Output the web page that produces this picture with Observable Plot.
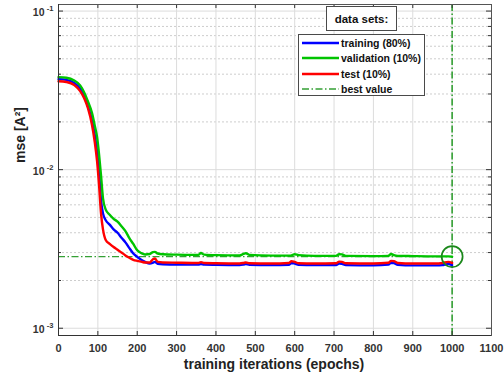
<!DOCTYPE html>
<html>
<head>
<meta charset="utf-8">
<script src="https://cdn.jsdelivr.net/npm/d3@7"></script>
<script src="https://cdn.jsdelivr.net/npm/@observablehq/plot@0.6"></script>
<style>
  html, body { margin: 0; padding: 0; background: #fff; }
  #chart { position: relative; width: 504px; height: 380px; font-family: "Liberation Sans", Arial, Helvetica, sans-serif; }
  #chart svg { display: block; }
  .title-box { position: absolute; left: 326px; top: 6px; width: 71px; height: 25px; box-sizing: border-box;
    border: 1px solid #4a4a4a; background: #fff; font-weight: bold; font-size: 11.5px; color: #111;
    display: flex; align-items: center; justify-content: center; }
  .legend-box { position: absolute; left: 298px; top: 34px; width: 127px; height: 62px; box-sizing: border-box;
    border: 1px solid #4a4a4a; background: #fff; }
  .legend-row { position: absolute; left: 3px; height: 14px; display: flex; align-items: center;
    font-weight: bold; font-size: 10.5px; color: #111; white-space: nowrap; }
  .legend-row svg { margin-right: 2px; }
</style>
</head>
<body>
<div id="chart"></div>
<script>
// Training history of the network: mean squared error per epoch (log scale)
const epochs = [0, 20, 40, 55, 65, 75, 85, 92, 98, 103, 108, 113, 120, 130, 140, 150, 160, 170, 180, 190,
  200, 210, 220, 232, 240, 245, 252, 265, 300, 340, 355, 362, 370, 400, 460, 470, 476, 485, 540, 585,
  592, 600, 610, 650, 705, 713, 720, 730, 800, 838, 845, 852, 862, 900, 960, 975, 990, 1000];

const training = [0.0372, 0.0368, 0.0352, 0.0325, 0.0292, 0.0250, 0.0205, 0.0166, 0.0130, 0.0098, 0.0064, 0.0053,
  0.0048, 0.0045, 0.0042, 0.0040, 0.00372, 0.00348, 0.00320, 0.00296,
  0.00282, 0.00270, 0.00262, 0.00256, 0.00259, 0.00262, 0.00255, 0.00253, 0.00252, 0.00252, 0.00252, 0.00254, 0.00252, 0.00251, 0.00250, 0.00252, 0.00254, 0.00251, 0.00250, 0.00251,
  0.00258, 0.00256, 0.00251, 0.00250, 0.00250, 0.00256, 0.00255, 0.00250, 0.00249, 0.00252, 0.00259, 0.00258, 0.00251, 0.00249, 0.00249, 0.00250, 0.00254, 0.00250];

const validation = [0.0383, 0.0380, 0.0365, 0.0340, 0.0308, 0.0268, 0.0228, 0.0190, 0.0160, 0.0125, 0.0092, 0.0066,
  0.0056, 0.0052, 0.0049, 0.0047, 0.0044, 0.0041, 0.0037, 0.0034,
  0.0031, 0.00298, 0.00292, 0.00294, 0.00302, 0.00303, 0.00296, 0.00293, 0.00291, 0.00290, 0.00290, 0.00298, 0.00291, 0.00289, 0.00288, 0.00294, 0.00297, 0.00290, 0.00287, 0.00287,
  0.00288, 0.00293, 0.00289, 0.00286, 0.00286, 0.00293, 0.00292, 0.00286, 0.00285, 0.00286, 0.00294, 0.00289, 0.00286, 0.00285, 0.00284, 0.00284, 0.00284, 0.00283];

const test = [0.0361, 0.0357, 0.0342, 0.0313, 0.0283, 0.0243, 0.0192, 0.0150, 0.0113, 0.0080, 0.0053, 0.0042,
  0.0036, 0.0034, 0.00325, 0.00313, 0.00300, 0.00288, 0.00278, 0.00270,
  0.00266, 0.00263, 0.00260, 0.00260, 0.00272, 0.00275, 0.00262, 0.00260, 0.00259, 0.00258, 0.00258, 0.00261, 0.00258, 0.00257, 0.00256, 0.00258, 0.00260, 0.00257, 0.00256, 0.00258,
  0.00265, 0.00262, 0.00257, 0.00256, 0.00257, 0.00263, 0.00262, 0.00257, 0.00256, 0.00259, 0.00266, 0.00265, 0.00258, 0.00256, 0.00256, 0.00258, 0.00262, 0.00258];

const seriesNames = ["training (80%)", "validation (10%)", "test (10%)"];
const seriesColors = ["#0000ff", "#00c400", "#ff0000"];
const bestLabel = "best value";
const bestEpoch = 1000;
const bestValue = 0.00283;

const xTicks = [0, 100, 200, 300, 400, 500, 600, 700, 800, 900, 1000, 1100];
const yMajor = [1e-3, 1e-2, 1e-1];
const yExponents = ["-3", "-2", "-1"];
const yMinor = [1e-3, 1e-2].flatMap(d => [2, 3, 4, 5, 6, 7, 8, 9].map(k => k * d));

const seriesValues = [training, validation, test];
const rows = seriesNames.map((name, s) => epochs.map((e, i) => ({ epoch: e, value: seriesValues[s][i], name })));

// layout
const W = 504, H = 380, mL = 58, mR = 13, mT = 4, mB = 45;
const iw = W - mL - mR, ih = H - mT - mB;
const font = '"Liberation Sans", Arial, Helvetica, sans-serif';
const bestColor = "#34a034";
const dashDot = "7,2.5,1.5,2.5";
const axisInk = "#333";

const chart = Plot.plot({
  width: W, height: H,
  marginLeft: mL, marginRight: mR, marginTop: mT, marginBottom: mB,
  style: { fontFamily: font, background: "#fff", overflow: "visible" },
  x: { domain: [0, 1100], axis: null },
  y: { type: "log", domain: [9e-4, 0.11], axis: null },
  marks: [
    // grid
    Plot.ruleY(yMinor, { stroke: "#cdcdcd", strokeDasharray: "2,2" }),
    Plot.ruleY(yMajor, { stroke: "#dcdcdc" }),
    Plot.ruleX(xTicks, { stroke: "#dcdcdc" }),
    // best validation performance
    Plot.ruleY([bestValue], { x1: 0, x2: bestEpoch, stroke: bestColor, strokeWidth: 1.3, strokeDasharray: dashDot }),
    Plot.ruleX([bestEpoch], { stroke: bestColor, strokeWidth: 1.6, strokeDasharray: dashDot }),
    // error curves
    Plot.line(rows[0], { x: "epoch", y: "value", stroke: seriesColors[0], strokeWidth: 2.4, curve: "monotone-x" }),
    Plot.line(rows[1], { x: "epoch", y: "value", stroke: seriesColors[1], strokeWidth: 2.4, curve: "monotone-x" }),
    Plot.line(rows[2], { x: "epoch", y: "value", stroke: seriesColors[2], strokeWidth: 2.4, curve: "monotone-x" }),
    Plot.dot([{ epoch: bestEpoch, value: bestValue }], { x: "epoch", y: "value", r: 10.5, stroke: "#1b881b", strokeWidth: 1.7, fill: "none" }),
    // inward ticks on all four sides
    Plot.ruleX(xTicks, { insetTop: ih - 4, stroke: axisInk }),
    Plot.ruleX(xTicks, { insetBottom: ih - 4, stroke: axisInk }),
    Plot.ruleY(yMajor, { insetRight: iw - 5, stroke: axisInk }),
    Plot.ruleY(yMajor, { insetLeft: iw - 5, stroke: axisInk }),
    Plot.ruleY(yMinor, { insetRight: iw - 3, stroke: axisInk }),
    Plot.ruleY(yMinor, { insetLeft: iw - 3, stroke: axisInk }),
    Plot.frame({ stroke: "#555" }),
    Plot.ruleX([0], { stroke: axisInk }),
    Plot.ruleY([9e-4], { stroke: axisInk }),
    // tick labels
    Plot.text(xTicks, { x: d => d, text: d => String(d), frameAnchor: "bottom", lineAnchor: "top", dy: 9, fontSize: 11, fontWeight: "bold", fill: axisInk }),
    Plot.text(yMajor, { y: d => d, text: () => "10", frameAnchor: "left", textAnchor: "end", dx: -14, dy: 1.5, fontSize: 10.5, fontWeight: "bold", fill: axisInk }),
    Plot.text(yMajor, { y: d => d, text: (d, i) => yExponents[i], frameAnchor: "left", textAnchor: "end", dx: -5, dy: -2.5, fontSize: 7.5, fontWeight: "bold", fill: axisInk }),
    // axis titles
    Plot.text(["training iterations (epochs)"], { text: d => d, frameAnchor: "bottom", dy: 33, dx: -1, fontSize: 14, fontWeight: "bold", fill: "#222" }),
    Plot.text(["mse [A²]"], { text: d => d, frameAnchor: "left", dx: -38, dy: -7, rotate: -90, fontSize: 14, fontWeight: "bold", fill: "#222" })
  ]
});

const root = d3.select("#chart");
root.node().appendChild(chart);

// legend
root.append("div").attr("class", "title-box").text("data sets:");
const box = root.append("div").attr("class", "legend-box");
const entries = seriesNames.map((name, i) => ({ name, color: seriesColors[i], dash: null, width: 2.6 }))
  .concat([{ name: bestLabel, color: bestColor, dash: dashDot, width: 1.4 }]);
entries.forEach((e, i) => {
  const row = box.append("div").attr("class", "legend-row").style("top", (1 + i * 15.3) + "px");
  const s = row.append("svg").attr("width", 37).attr("height", 8);
  s.append("line").attr("x1", 0).attr("x2", 37).attr("y1", 4).attr("y2", 4)
    .attr("stroke", e.color).attr("stroke-width", e.width).attr("stroke-dasharray", e.dash);
  row.append("span").text(e.name);
});
</script>
</body>
</html>
